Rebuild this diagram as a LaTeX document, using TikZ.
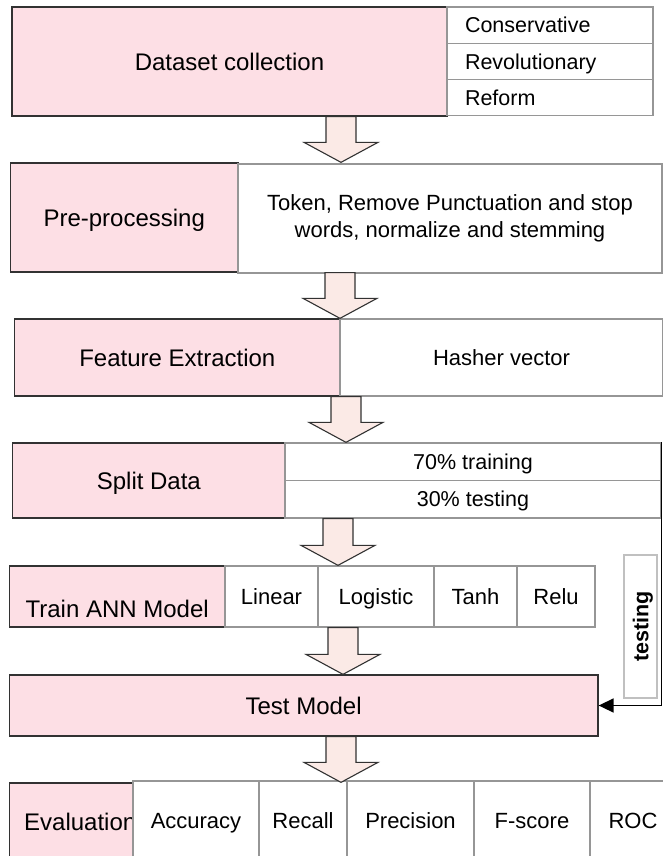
\documentclass[tikz,border=0pt]{standalone}
\usepackage{fontspec}
\setmainfont{Liberation Sans}
\usetikzlibrary{calc,arrows.meta}

\definecolor{stagepink}{RGB}{253,223,229}
\definecolor{arrowpeach}{RGB}{251,234,230}
\definecolor{cellgray}{RGB}{150,150,150}
\definecolor{edgedark}{RGB}{50,50,50}

% block arrow between two stages, #3 = x of its axis
\newcommand{\blockarrow}[3]{%
  \draw[blockarr] let \p1=(#1.south), \p2=(#2.north) in
    (#3-15,\y1) -- (#3+15,\y1) -- (#3+15,\y2+20pt) -- (#3+37,\y2+20pt)
    -- (#3,\y2) -- (#3-37,\y2+20pt) -- (#3-15,\y2+20pt) -- cycle;}

\begin{document}
\begin{tikzpicture}[x=1pt,y=-1pt,
    stage/.style={draw=edgedark,fill=stagepink,line width=1.3pt,inner sep=0pt,
      text height=17.2pt,text depth=0pt,font=\fontsize{24}{28}\selectfont},
    cell/.style={draw=cellgray,fill=white,line width=1.1pt,inner sep=0pt,
      text height=15.8pt,text depth=0pt,font=\fontsize{22}{27}\selectfont},
    rowcell/.style={cell,text height=15.4pt,font=\fontsize{21.5}{26}\selectfont},
    blockarr/.style={draw=edgedark,fill=arrowpeach,line width=1.1pt,line join=miter},
    feedback/.style={draw=black,line width=1.6pt,-{Triangle[length=15pt,width=14pt]}}]
  \clip (0,0) rectangle (663,856);
  \fill[white] (0,0) rectangle (663,856);

  % stage 1
  \node[stage,minimum width=435pt,minimum height=109pt] (dataset) at (229.5,61.5) {Dataset collection};
  \node[rowcell,minimum width=206pt,minimum height=36.3pt,text width=170pt,align=left] (cons) at (550,25.2) {Conservative};
  \node[rowcell,minimum width=206pt,minimum height=36.3pt,text width=170pt,align=left] (revo) at (550,61.5) {Revolutionary};
  \node[rowcell,minimum width=206pt,minimum height=36.3pt,text width=170pt,align=left] (reform) at (550,97.8) {Reform};

  % stage 2
  \node[stage,minimum width=227.5pt,minimum height=109pt] (preproc) at (124.25,217.5) {Pre-processing};
  \node[cell,minimum width=424pt,minimum height=109pt,align=center,text height=,text depth=] (steps) at (450,218.5)
    {Token, Remove Punctuation and stop\\words, normalize and stemming};

  % stage 3
  \node[stage,minimum width=325pt,minimum height=77pt] (feature) at (177.3,357.5) {Feature Extraction};
  \node[cell,minimum width=323pt,minimum height=77pt] (hasher) at (501.5,357.5) {Hasher vector};

  % stage 4
  \node[stage,minimum width=272.3pt,minimum height=75pt] (split) at (148.85,480.5) {Split Data};
  \node[rowcell,minimum width=376pt,minimum height=37.5pt] (train70) at (473,461.75) {70\% training};
  \node[rowcell,minimum width=376pt,minimum height=37.5pt] (test30) at (473,499.25) {30\% testing};

  % stage 5
  \node[stage,minimum width=215.7pt,minimum height=61pt,text height=42pt,text depth=0pt] (train) at (117.15,596.5) {Train ANN Model};
  \node[cell,minimum width=93pt,minimum height=61pt] (linear) at (271.5,596.5) {Linear};
  \node[cell,minimum width=116pt,minimum height=61pt] (logistic) at (376,596.5) {Logistic};
  \node[cell,minimum width=83pt,minimum height=61pt] (tanh) at (475.5,596.5) {Tanh};
  \node[cell,minimum width=78pt,minimum height=61pt] (relu) at (556,596.5) {Relu};

  % stage 6
  \node[stage,minimum width=588.7pt,minimum height=61pt] (test) at (303.65,705.5) {Test Model};

  % stage 7
  \node[stage,minimum width=190.7pt,minimum height=77pt,text width=161pt,align=left] (eval) at (104.65,821.5) {Evaluation};
  \node[cell,minimum width=126pt,minimum height=79pt] (accuracy) at (196,820.5) {Accuracy};
  \node[cell,minimum width=88pt,minimum height=79pt] (recall) at (303,820.5) {Recall};
  \node[cell,minimum width=127pt,minimum height=79pt] (precision) at (410.5,820.5) {Precision};
  \node[cell,minimum width=116pt,minimum height=79pt] (fscore) at (532,820.5) {F-score};
  \node[cell,minimum width=86pt,minimum height=79pt] (roc) at (633,820.5) {ROC};

  % testing branch
  \node[cell,draw=cellgray!60,rotate=90,minimum width=143pt,minimum height=33pt,
    font=\fontsize{21.5}{26}\selectfont\bfseries] (testing) at (640.5,626.5) {testing};
  \draw[feedback] (train70.north east) |- (test.east);

  % block arrows
  \blockarrow{dataset}{preproc}{341}
  \blockarrow{preproc}{feature}{340}
  \blockarrow{feature}{split}{346}
  \blockarrow{split}{train}{338}
  \blockarrow{train}{test}{343}
  \blockarrow{test}{eval}{341}
\end{tikzpicture}
\end{document}
